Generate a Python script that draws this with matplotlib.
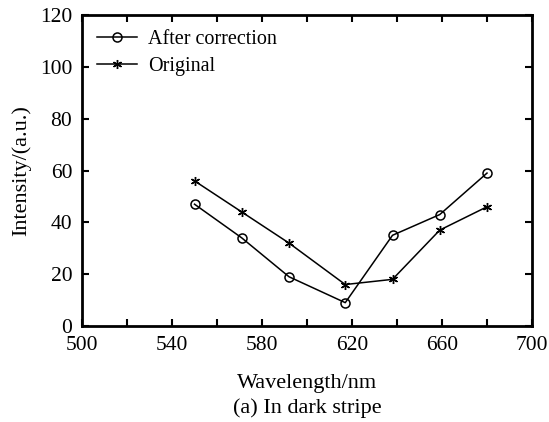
import matplotlib
matplotlib.use("Agg")
from matplotlib import pyplot as plt
from matplotlib.ticker import FixedLocator

# 数据
wavelength = [550, 571, 592, 617, 638, 659, 680]
after_correction = [47, 34, 19, 9, 35, 43, 59]
original = [56, 44, 32, 16, 18, 37, 46]
x_major = [500, 540, 580, 620, 660, 700]
x_minor = [520, 560, 600, 640, 680]
y_ticks = [0, 20, 40, 60, 80, 100, 120]

plt.rcParams['font.family'] = ['Liberation Serif', 'DejaVu Serif']

fig = plt.figure(figsize=(5.49, 4.22), dpi=100)
ax = fig.add_axes([82 / 549, 1 - 326 / 422, 450 / 549, 311 / 422])

ax.plot(wavelength, after_correction, color="black", linewidth=1.1, marker="o",
        markersize=6.5, markerfacecolor="none", markeredgewidth=1.1, label="After correction")
ax.plot(wavelength, original, color="black", linewidth=1.1, marker=(6, 2, 0),
        markersize=6.5, markeredgewidth=1.0, label="Original")

ax.set_xlim(500, 700)
ax.set_ylim(0, 120)
ax.xaxis.set_major_locator(FixedLocator(x_major))
ax.xaxis.set_minor_locator(FixedLocator(x_minor))
ax.yaxis.set_major_locator(FixedLocator(y_ticks))
ax.tick_params(which="both", direction="in", top=True, right=True, labelsize=15.5,
               width=1.5, length=5, pad=7)
for s in ax.spines.values():
    s.set_linewidth(2)

ax.set_xlabel("Wavelength/nm", fontsize=16, labelpad=14)
ax.set_ylabel("Intensity/(a.u.)", fontsize=16, labelpad=6)
fig.text((82 + 532) / 2 / 549, 0.022, "(a) In dark stripe", ha="center", fontsize=16)

ax.legend(loc="upper left", frameon=False, fontsize=14.5, handlelength=2.0,
          borderaxespad=0.3, borderpad=0.45, labelspacing=0.38, handletextpad=0.55)

plt.savefig("out.png", dpi=100)
